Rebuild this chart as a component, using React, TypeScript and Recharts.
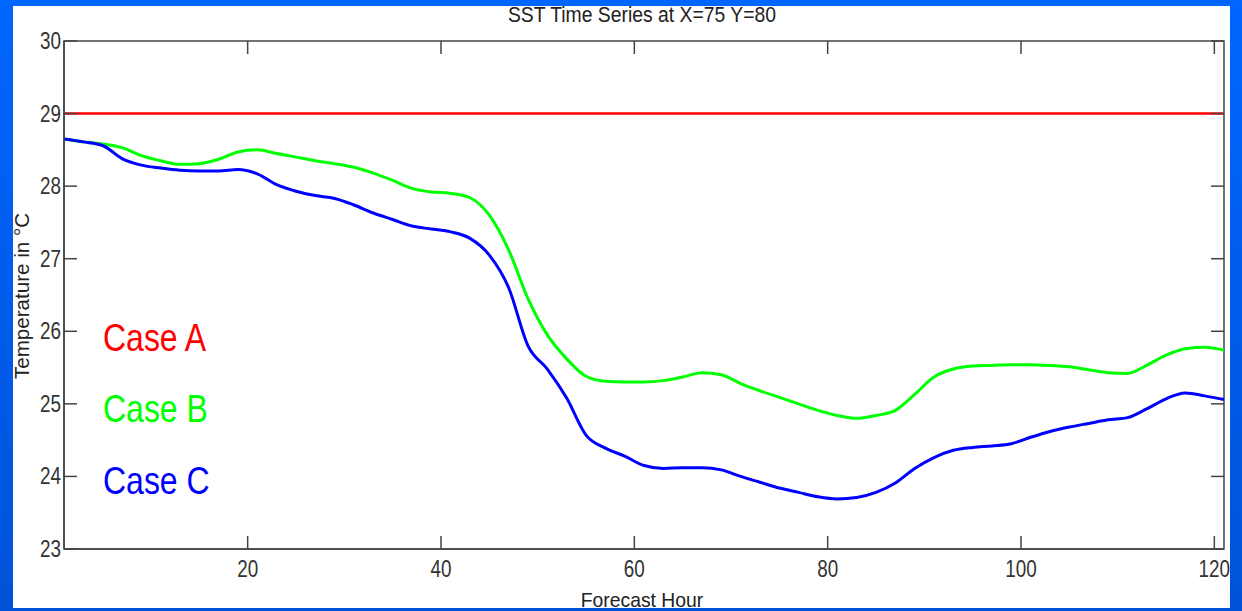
import React from "react";
import { LineChart, Line, XAxis, YAxis, ReferenceArea } from "recharts";

const hours = [1,3,5,7,9,11,13,15,17,19,21,23,25,27,29,31,33,35,37,39,41,43,45,47,49,51,53,55,57,59,61,63,65,67,69,71,73,75,77,79,81,83,85,87,89,91,93,95,97,99,101,103,105,107,109,111,113,115,117,119,121];

const caseA = hours.map(() => 29);

const caseB = [28.65,28.61,28.58,28.53,28.42,28.35,28.30,28.31,28.37,28.47,28.50,28.45,28.40,28.35,28.31,28.26,28.18,28.08,27.97,27.92,27.90,27.84,27.60,27.12,26.45,25.95,25.62,25.38,25.31,25.30,25.30,25.32,25.37,25.43,25.40,25.28,25.18,25.09,25.00,24.91,24.84,24.80,24.84,24.91,25.13,25.37,25.48,25.52,25.53,25.54,25.54,25.53,25.51,25.47,25.43,25.42,25.53,25.67,25.76,25.78,25.74];

const caseC = [28.65,28.61,28.56,28.38,28.29,28.25,28.22,28.21,28.21,28.23,28.17,28.02,27.93,27.87,27.83,27.74,27.63,27.54,27.45,27.41,27.37,27.28,27.05,26.60,25.80,25.48,25.08,24.57,24.39,24.28,24.15,24.11,24.12,24.12,24.09,24.00,23.92,23.84,23.78,23.72,23.69,23.71,23.78,23.91,24.11,24.26,24.36,24.40,24.42,24.45,24.54,24.62,24.68,24.73,24.78,24.81,24.93,25.07,25.15,25.11,25.06];

const xTicks = [20, 40, 60, 80, 100, 120];
const yTicks = [23, 24, 25, 26, 27, 28, 29, 30];

const data = hours.map((h, i) => ({ h, a: caseA[i], b: caseB[i], c: caseC[i] }));

const FONT = "'Liberation Sans', Arial, sans-serif";
const SX = 0.82;
const AXIS = "#444";
const PLOT_W = 1160;
const PLOT_H = 508;
const TICK = 13;

function XTick(props: any) {
  const { x, y, payload } = props;
  return (
    <g>
      <line x1={x} x2={x} y1={y} y2={y - TICK} stroke={AXIS} strokeWidth={1.5} />
      <line x1={x} x2={x} y1={y - PLOT_H} y2={y - PLOT_H + TICK} stroke={AXIS} strokeWidth={1.5} />
      <text transform={`translate(${x},${y + 28}) scale(${SX},1)`} textAnchor="middle" fontFamily={FONT} fontSize={23} fill="#333">
        {payload.value}
      </text>
    </g>
  );
}

function YTick(props: any) {
  const { x, y, payload } = props;
  return (
    <g>
      <line x1={x} x2={x + TICK} y1={y} y2={y} stroke={AXIS} strokeWidth={1.5} />
      <line x1={x + PLOT_W - TICK} x2={x + PLOT_W} y1={y} y2={y} stroke={AXIS} strokeWidth={1.5} />
      <text transform={`translate(${x - 3},${y + 8}) scale(${SX},1)`} textAnchor="end" fontFamily={FONT} fontSize={23} fill="#333">
        {payload.value}
      </text>
    </g>
  );
}

const txt: React.CSSProperties = { position: "absolute", fontFamily: FONT, whiteSpace: "nowrap", lineHeight: 1 };

export default function App() {
  return (
    <div style={{ position: "absolute", left: 0, top: 0, width: 1242, height: 611, background: "linear-gradient(to bottom, #0066ff, #0053d8)", overflow: "hidden" }}>
      <div style={{ position: "absolute", left: 13, top: 6, width: 1217, height: 602, background: "#ffffff" }} />
      <div style={{ position: "absolute", left: 0, top: 0 }}>
        <LineChart width={1242} height={611} data={data} margin={{ top: 41, right: 18, bottom: 22, left: 8 }}>
          <XAxis dataKey="h" type="number" domain={[1, 121]} ticks={xTicks} tickSize={0} tickMargin={0} tickLine={false} axisLine={{ stroke: AXIS, strokeWidth: 1.5 }} tick={<XTick />} height={40} interval={0} />
          <YAxis type="number" domain={[23, 30]} ticks={yTicks} tickSize={0} tickMargin={0} tickLine={false} axisLine={{ stroke: AXIS, strokeWidth: 1.5 }} tick={<YTick />} width={56} interval={0} />
          <ReferenceArea x1={1} x2={121} y1={23} y2={30} fill="none" stroke={AXIS} strokeWidth={1.5} ifOverflow="visible" />
          <Line type="monotone" dataKey="a" stroke="#ff0000" strokeWidth={2.5} dot={false} isAnimationActive={false} />
          <Line type="monotone" dataKey="b" stroke="#00ff00" strokeWidth={3} dot={false} isAnimationActive={false} />
          <Line type="monotone" dataKey="c" stroke="#0000ff" strokeWidth={3} dot={false} isAnimationActive={false} />
        </LineChart>
      </div>
      <div style={{ ...txt, left: 642, top: 5, transform: "translateX(-50%) scaleX(0.9)", fontSize: 21.5, color: "#222" }}>SST Time Series at X=75 Y=80</div>
      <div style={{ ...txt, left: 642, top: 589, transform: "translateX(-50%) scaleX(0.92)", fontSize: 21, color: "#222" }}>Forecast Hour</div>
      <div style={{ ...txt, left: 21, top: 296, transform: "translate(-50%, -50%) rotate(-90deg) scaleX(0.98)", fontSize: 21, color: "#222" }}>Temperature in °C</div>
      <div style={{ ...txt, left: 103, top: 318, transformOrigin: "left top", transform: `scaleX(${SX})`, fontSize: 39, color: "#ff0000" }}>Case A</div>
      <div style={{ ...txt, left: 103, top: 389, transformOrigin: "left top", transform: `scaleX(${SX})`, fontSize: 39, color: "#00ff00" }}>Case B</div>
      <div style={{ ...txt, left: 103, top: 461, transformOrigin: "left top", transform: `scaleX(${SX})`, fontSize: 39, color: "#0000ff" }}>Case C</div>
    </div>
  );
}
